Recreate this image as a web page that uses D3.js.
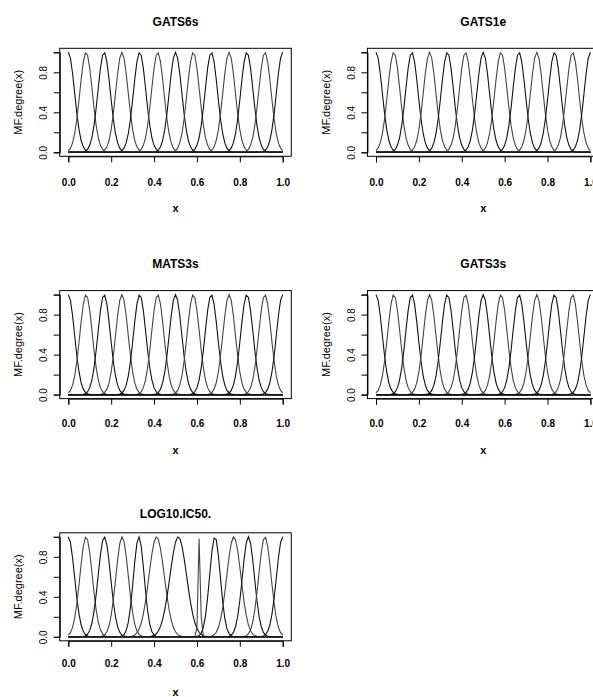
<!DOCTYPE html>
<html>
<head>
<meta charset="utf-8">
<script src="https://cdn.jsdelivr.net/npm/d3@7"></script>
<style>
  html, body { margin: 0; padding: 0; background: #fff; }
  svg { display: block; }
  text { font-family: "Liberation Sans", Arial, sans-serif; fill: #000; }
</style>
</head>
<body>
<svg id="chart" width="593" height="697"></svg>
<script>
// ---- data ----
const panelTitles = ["GATS6s", "GATS1e", "MATS3s", "GATS3s", "LOG10.IC50."];
const xTicks = [0, 0.2, 0.4, 0.6, 0.8, 1.0];
const yTicks = [0, 0.2, 0.4, 0.6, 0.8, 1.0];
const yTickLabels = [0, 0.4, 0.8];
const xLabel = "x";
const yLabel = "MF.degree(x)";

// Gaussian membership functions: centers and widths (sigma)
const centersEven = [0, 0.083, 0.167, 0.25, 0.333, 0.417, 0.5, 0.583, 0.667, 0.75, 0.833, 0.917, 1.0];
const sigmasEven  = [0.029, 0.029, 0.029, 0.029, 0.029, 0.029, 0.029, 0.029, 0.029, 0.029, 0.029, 0.029, 0.029];
const centersLog  = [0, 0.083, 0.168, 0.251, 0.329, 0.412, 0.513, 0.611, 0.684, 0.772, 0.840, 0.917, 1.0];
const sigmasLog   = [0.029, 0.029, 0.029, 0.029, 0.025, 0.036, 0.039, 0.005, 0.025, 0.033, 0.028, 0.029, 0.029];

const panelCenters = [centersEven, centersEven, centersEven, centersEven, centersLog];
const panelSigmas  = [sigmasEven, sigmasEven, sigmasEven, sigmasEven, sigmasLog];

// ---- layout ----
const svg = d3.select("#chart");
svg.append("rect").attr("width", 593).attr("height", 697).attr("fill", "#fff");

const colX = [68.3, 376.0];   // pixel of x = 0
const plotW = 214.4;          // pixel span of x from 0 to 1
const rowY0 = [152.3, 394.6, 636.8]; // pixel of y = 0
const plotH = 100;            // pixel span of y from 0 to 1
const titleCY = [22, 263.5, 513.5];
const tickLabCY = [182, 423.5, 663.5];
const xLabCY = [209, 450.7, 692.5];

const grid = d3.range(0, 101).map(i => i / 100);

panelTitles.forEach((title, p) => {
  const col = p % 2, row = Math.floor(p / 2);
  const x = d3.scaleLinear().domain([0, 1]).range([colX[col], colX[col] + plotW]);
  const y = d3.scaleLinear().domain([0, 1]).range([rowY0[row], rowY0[row] - plotH]);
  const [bx0, bx1] = [x(-0.04), x(1.04)];
  const [by0, by1] = [y(1.04), y(-0.04)];
  const g = svg.append("g");

  // curves
  const line = d3.line().x(d => x(d[0])).y(d => y(d[1]));
  const cs = panelCenters[p], ss = panelSigmas[p];
  cs.forEach((c, i) => {
    const s = ss[i];
    const pts = grid.map(v => [v, Math.exp(-((v - c) * (v - c)) / (2 * s * s))]);
    g.append("path").attr("d", line(pts))
      .attr("fill", "none")
      .attr("stroke", i % 2 === 0 ? "#111" : "#444")
      .attr("stroke-width", 1.1);
  });

  // box
  g.append("rect").attr("x", bx0).attr("y", by0)
    .attr("width", bx1 - bx0).attr("height", by1 - by0)
    .attr("fill", "none").attr("stroke", "#000").attr("stroke-width", 1);

  // x axis
  const xa = d3.axisBottom(x).tickValues(xTicks).tickSize(6).tickFormat(d3.format(".1f"));
  const xg = g.append("g").attr("transform", `translate(0,${by1})`).call(xa);
  xg.select(".domain").attr("stroke", "#000");
  xg.selectAll(".tick line").attr("stroke", "#000");
  xg.selectAll(".tick text")
    .attr("y", 0).attr("dy", null)
    .attr("transform", `translate(0,${tickLabCY[row] + 3.6 - by1})`)
    .style("font-family", '"Liberation Sans", Arial, sans-serif')
    .style("font-size", "10px").style("font-weight", "bold").attr("fill", "#000");

  // y axis
  const ya = d3.axisLeft(y).tickValues(yTicks).tickSize(6)
    .tickFormat(d => yTickLabels.some(v => Math.abs(v - d) < 1e-9) ? d3.format(".1f")(d) : "");
  const yg = g.append("g").attr("transform", `translate(${bx0},0)`).call(ya);
  yg.select(".domain").attr("stroke", "#000");
  yg.selectAll(".tick line").attr("stroke", "#000");
  yg.selectAll(".tick text")
    .attr("x", 0).attr("dy", null).attr("y", 0)
    .attr("text-anchor", "middle")
    .attr("transform", "translate(-12.8,0) rotate(-90)")
    .style("font-family", '"Liberation Sans", Arial, sans-serif')
    .style("font-size", "10px").attr("fill", "#000");

  // title
  g.append("text").attr("x", (bx0 + bx1) / 2).attr("y", titleCY[row] + 4.3)
    .attr("text-anchor", "middle").style("font-size", "12px").style("font-weight", "bold")
    .text(title);

  // x label
  g.append("text").attr("x", (bx0 + bx1) / 2).attr("y", xLabCY[row] + 3.3)
    .attr("text-anchor", "middle").style("font-size", "11px").style("font-weight", "bold")
    .text(xLabel);

  // y label
  g.append("text")
    .attr("transform", `translate(${bx0 - 37.5},${(by0 + by1) / 2}) rotate(-90)`)
    .attr("text-anchor", "middle").style("font-size", "11px")
    .text(yLabel);
});
</script>
</body>
</html>
